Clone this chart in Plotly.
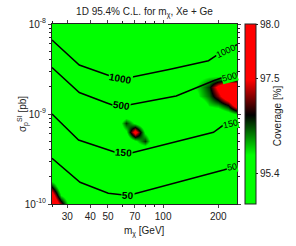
import numpy as np
import plotly.graph_objects as go

# ---------------- data ----------------
# grid nodes of the coverage map
mass_nodes = [24.74, 27.79, 31.22, 35.07, 39.39, 44.25, 49.71, 55.84, 62.72, 70.46,
              79.15, 88.91, 99.86, 112.2, 126.0, 141.6, 159.0, 178.6, 200.6, 225.4, 253.2]
sigma_nodes = [1.0e-10, 1.259e-10, 1.585e-10, 1.995e-10, 2.512e-10, 3.162e-10, 3.981e-10,
               5.012e-10, 6.31e-10, 7.943e-10, 1.0e-9, 1.259e-9, 1.585e-9, 1.995e-9,
               2.512e-9, 3.162e-9, 3.981e-9, 5.012e-9, 6.31e-9, 7.943e-9, 1.0e-8]
base_coverage = 95.29
# nodes where the coverage departs from the base level
hot_mass = [70.46, 79.15, 62.72, 62.72, 79.15, 70.46, 70.46,
            253.2, 253.2, 253.2, 253.2, 253.2,
            225.4, 225.4, 225.4, 225.4, 225.4,
            200.6, 200.6, 200.6, 200.6,
            178.6, 178.6, 178.6, 178.6,
            159.0, 159.0, 159.0,
            141.6,
            24.74, 24.74, 24.74, 27.79, 27.79]
hot_sigma = [6.31e-10, 5.012e-10, 7.943e-10, 6.31e-10, 6.31e-10, 5.012e-10, 7.943e-10,
             2.512e-9, 1.995e-9, 1.585e-9, 1.259e-9, 1.0e-9,
             2.512e-9, 1.995e-9, 1.585e-9, 1.259e-9, 1.0e-9,
             2.512e-9, 1.995e-9, 1.585e-9, 1.259e-9,
             2.512e-9, 1.995e-9, 1.585e-9, 1.259e-9,
             2.512e-9, 1.995e-9, 1.585e-9,
             1.995e-9,
             1.0e-10, 1.259e-10, 1.585e-10, 1.0e-10, 1.259e-10]
hot_cov = [97.63, 96.52, 96.52, 95.73, 95.73, 95.73, 95.73,
           96.00, 98.0, 98.0, 97.75, 95.92,
           96.00, 98.0, 97.83, 96.71, 95.53,
           96.00, 97.58, 97.10, 96.12,
           95.92, 96.52, 96.32, 95.92,
           95.73, 96.04, 95.92,
           95.73,
           98.0, 97.67, 96.52, 97.10, 95.81]

# colour-bar scale (coverage -> position on bar)
cov_anchor = [95.0, 95.4, 97.5, 98.0]
bar_anchor = [0.0, 0.1667, 0.7, 1.0]
cbar_ticks = [95.4, 97.5, 98.0]
cbar_text = ["95.4", "97.5", "98.0"]

# contour lines (events)
c1000_m = [24.74, 34.86, 58.3, 109.3, 176.9, 196.6, 253.2]
c1000_s = [6.64e-9, 3.503e-9, 2.416e-9, 3.138e-9, 3.91e-9, 4.52e-9, 5.9e-9]
c500_m = [24.74, 34.86, 48.9, 56.6, 117.9, 190.1, 253.2]
c500_s = [3.285e-9, 1.733e-9, 1.335e-9, 1.196e-9, 1.585e-9, 2.356e-9, 2.891e-9]
c150_m = [24.74, 34.56, 50.4, 60.6, 188.4, 213.6, 253.2]
c150_s = [1.0e-9, 5.14e-10, 3.98e-10, 3.5e-10, 6.26e-10, 7.54e-10, 8.36e-10]
c50_m = [24.74, 35.2, 50.2, 64.5, 213.6, 253.2]
c50_s = [3.22e-10, 1.742e-10, 1.315e-10, 1.243e-10, 2.386e-10, 2.644e-10]

label_text = ["1000", "500", "150", "50"]
label_mid_m = [58.3, 59.6, 60.8, 64.7]
label_mid_s = [2.49e-9, 1.259e-9, 3.715e-10, 1.259e-10]
label_mid_angle = [10, 8, 4, 2]
label_edge_m = [221.5, 230.0, 232.0, 238.0]
label_edge_s = [4.95e-9, 2.6e-9, 7.75e-10, 2.6e-10]
label_edge_angle = [-25, -15, -12, -10]

x_ticks = [30, 40, 50, 70, 100, 200]
x_minor = [25, 60, 80, 90, 300]
y_ticks = [1e-10, 1e-9, 1e-8]
y_ticktext = ["10<sup>-10</sup>", "10<sup>-9</sup>", "10<sup>-8</sup>"]
y_minor = [2e-10, 3e-10, 4e-10, 5e-10, 6e-10, 7e-10, 8e-10, 9e-10,
           2e-9, 3e-9, 4e-9, 5e-9, 6e-9, 7e-9, 8e-9, 9e-9]

# ---------------- build grid ----------------
lm = np.log10(mass_nodes)
ls = np.log10(sigma_nodes)
cov = np.full((len(sigma_nodes), len(mass_nodes)), base_coverage)
for m, s, c in zip(hot_mass, hot_sigma, hot_cov):
    i = int(np.argmin(np.abs(lm - np.log10(m))))
    j = int(np.argmin(np.abs(ls - np.log10(s))))
    cov[j, i] = c
zpos = np.interp(cov, cov_anchor, bar_anchor)

GREEN = "#00ff00"
colorscale = [[0.0, GREEN], [0.272, GREEN], [0.494, "#000000"], [0.689, "#ff0000"], [1.0, "#ff0000"]]

FONT = "Liberation Sans, Arial, sans-serif"
fig = go.Figure()
fig.add_trace(go.Heatmap(
    x=mass_nodes, y=sigma_nodes, z=zpos, zmin=0, zmax=1, zsmooth="best",
    colorscale=colorscale, hoverinfo="skip",
    colorbar=dict(x=1.0432, xanchor="left", xpad=0, ypad=0, y=0.5, yanchor="middle",
                  len=1, thickness=11, outlinewidth=1, outlinecolor="#222",
                  tickmode="array", tickvals=list(np.interp(cbar_ticks, cov_anchor, bar_anchor)),
                  ticktext=cbar_text, ticks="outside", ticklen=2, tickcolor="#222",
                  tickfont=dict(size=10, color="#222", family=FONT)),
))

for ms, ss in [(c1000_m, c1000_s), (c500_m, c500_s), (c150_m, c150_s), (c50_m, c50_s)]:
    fig.add_trace(go.Scatter(x=ms, y=ss, mode="lines", line=dict(color="black", width=1.5),
                             hoverinfo="skip", showlegend=False))

annotations = []
for t, m, s, a in zip(label_text, label_mid_m, label_mid_s, label_mid_angle):
    annotations.append(dict(x=np.log10(m), y=np.log10(s), xref="x", yref="y", text=t,
                            showarrow=False, textangle=a, bgcolor=GREEN, borderpad=0,
                            font=dict(size=10, color="black", family=FONT, weight="bold")))
for t, m, s, a in zip(label_text, label_edge_m, label_edge_s, label_edge_angle):
    annotations.append(dict(x=np.log10(m), y=np.log10(s), xref="x", yref="y", text=t,
                            showarrow=False, textangle=a, bgcolor=GREEN, borderpad=0,
                            font=dict(size=9, color="black", family=FONT)))
annotations += [
    dict(x=0.5, y=-0.155, xref="paper", yref="paper", text="m<sub>χ</sub> [GeV]", showarrow=False,
         font=dict(size=10, color="#222", family=FONT), yanchor="middle"),
    dict(x=-0.205, y=0.5, xref="paper", yref="paper", text="σ<sub>p</sub><sup>SI</sup> [pb]",
         showarrow=False, textangle=-90, font=dict(size=10, color="#222", family=FONT)),
    dict(x=1.259, y=0.49, xref="paper", yref="paper", text="Coverage [%]", showarrow=False,
         textangle=-90, font=dict(size=10, color="#222", family=FONT)),
]

fig.update_layout(
    width=296, height=246,
    margin=dict(l=52, r=59, t=24, b=42),
    paper_bgcolor="white", plot_bgcolor="white",
    font=dict(family=FONT, size=10, color="#222"),
    title=dict(text="1D 95.4% C.L. for m<sub>χ</sub>, Xe + Ge", x=0.5, xref="paper",
               y=0.955, yref="container", xanchor="center", yanchor="middle",
               font=dict(size=10, color="#222", family=FONT)),
    showlegend=False,
    annotations=annotations,
    xaxis=dict(type="log", range=[np.log10(24.74), np.log10(253.2)], tickmode="array",
               tickvals=x_ticks, ticktext=[str(v) for v in x_ticks], ticks="outside", ticklen=3,
               showline=True, linecolor="#222", linewidth=1, mirror="ticks", showgrid=False,
               zeroline=False, tickfont=dict(size=10, color="#222"),
               minor=dict(tickmode="array", tickvals=x_minor, ticks="outside", ticklen=2,
                          showgrid=False, tickcolor="#222")),
    yaxis=dict(type="log", range=[-10, -8], tickmode="array", tickvals=y_ticks,
               ticktext=y_ticktext, ticks="outside", ticklen=3, showline=True, linecolor="#222",
               linewidth=1, mirror="ticks", showgrid=False, zeroline=False,
               tickfont=dict(size=10, color="#222"),
               minor=dict(tickmode="array", tickvals=y_minor, ticks="outside", ticklen=2,
                          showgrid=False, tickcolor="#222")),
)

fig.write_html("out.html", config={"displayModeBar": False},
               post_script="document.body.style.margin='0';document.body.style.overflow='hidden';")
